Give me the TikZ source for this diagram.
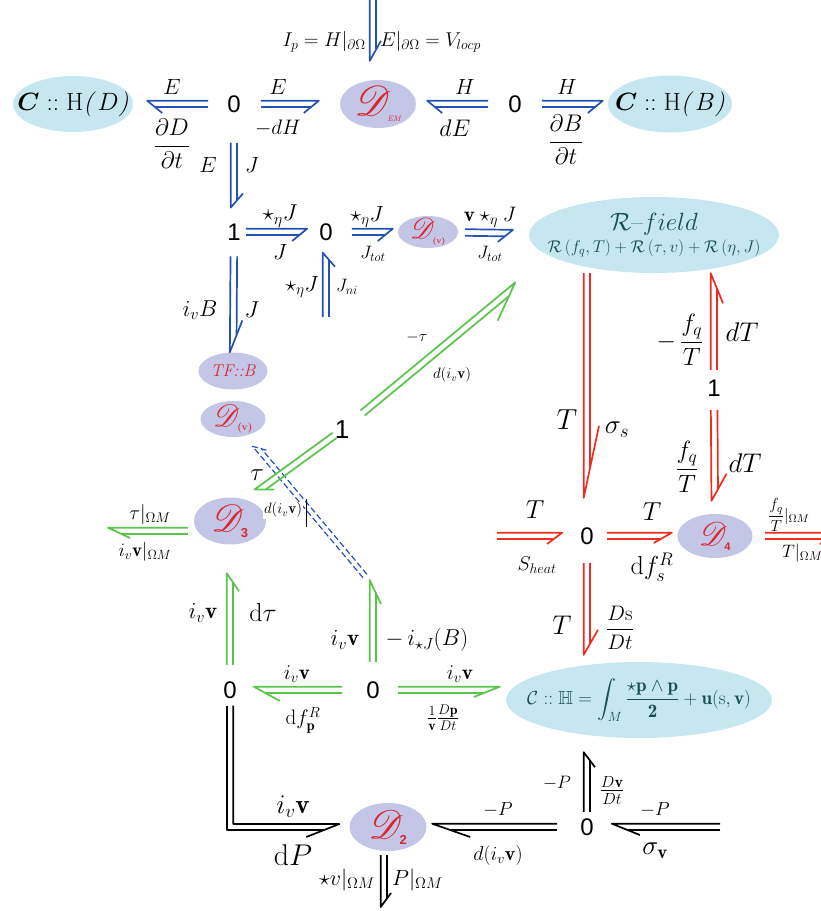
\documentclass[tikz,border=0pt]{standalone}
\usepackage{fix-cm}
\usepackage{amsmath,amssymb}
\usepackage{mathrsfs}
\DeclareFontFamily{U}{rsfs}{\skewchar\font127 }
\DeclareFontShape{U}{rsfs}{m}{n}{<-6> rsfs5 <6-8> rsfs7 <8-> rsfs10}{}
\usepackage{fontspec}
\newfontfamily\jfont{Liberation Sans}
\usetikzlibrary{shapes.geometric,calc}
\definecolor{bblue}{RGB}{35,82,178}
\definecolor{bgreen}{RGB}{88,196,74}
\definecolor{bred}{RGB}{240,44,30}
\definecolor{ecyan}{RGB}{198,231,239}
\definecolor{elav}{RGB}{196,198,232}
\definecolor{ttext}{RGB}{22,78,84}
\definecolor{dred}{RGB}{218,38,44}
\newcommand\hbsep{3.3pt}
% #1 style, #2 side, #3 from, #4 to, #5 gap start, #6 gap end, #7 barb length, #8 barb width
\newcommand\hb[8]{%
  \pgfmathsetlengthmacro\hbD{#2*\hbsep}%
  \pgfmathsetlengthmacro\hbW{#2*#8}%
  \pgfmathsetlengthmacro\hbC{#7*2*\hbsep/(\hbsep+#8)}%
  \path (#3) -- (#4) coordinate[pos=0] (hbA0) coordinate[pos=1] (hbB0);%
  \coordinate (hbA) at ($(hbA0)!#5!(hbB0)$);%
  \coordinate (hbB) at ($(hbB0)!#6!(hbA0)$);%
  \coordinate (hbP) at ($(hbB)!#7!(hbA)$);%
  \coordinate (hbQ) at ($(hbB)!\hbC!(hbA)$);%
  \draw[bondline,#1] ($(hbA)!\hbD!90:(hbB)$) -- ($(hbB)!\hbD!-90:(hbA)$) -- ($(hbP)!\hbW!90:(hbA)$);%
  \draw[bondline,#1] ($(hbA)!\hbD!-90:(hbB)$) -- ($(hbQ)!\hbD!90:(hbA)$);%
}
\newcommand\subsf[2]{\text{\jfont\fontsize{#1}{#1}\selectfont\bfseries #2}}
\tikzset{
  bondline/.style={line width=1.7pt, line join=round},
  jn/.style={inner sep=0pt, font=\jfont\fontsize{24}{24}\selectfont},
  lab/.style={inner sep=0pt, font=\fontsize{#1}{#1}\selectfont},
  cyanell/.style={ellipse, fill=ecyan, inner xsep=-40pt, inner ysep=-8pt},
  lavell/.style={ellipse, fill=elav, inner xsep=-40pt, inner ysep=-20pt},
}
\begin{document}
\begin{tikzpicture}[x=1pt,y=-1pt]
\useasboundingbox (0,0) rectangle (821,911);
\clip (0,0) rectangle (821,911);

% ---------- nodes ----------
\node[cyanell, minimum width=120, minimum height=56] (CHD) at (73,104)
  {\fontsize{25}{25}\selectfont$\boldsymbol{C}\mathrel{\mathbf{::}}\mathrm{H}$\textit{(\,$D$)}};
\node[lavell, minimum width=76, minimum height=48] (DEM) at (378,104)
  {\color{dred}\fontsize{42}{42}\selectfont$\mathscr{D}_{\text{\fontsize{8}{8}\selectfont\itshape EM}}$};
\node[cyanell, minimum width=124, minimum height=57] (CHB) at (670,104)
  {\fontsize{25}{25}\selectfont$\boldsymbol{C}\mathrel{\mathbf{::}}\mathrm{H}$\textit{(\,$B$)}};
\node[jn] (z1) at (234,104) {0};
\node[jn] (z2) at (515,104) {0};
\node[jn] (j1) at (234,232) {1};
\node[jn] (z3) at (326,232) {0};
\node[lavell, minimum width=60, minimum height=32] (Dv) at (428,232)
  {\color{dred}\fontsize{29}{29}\selectfont$\mathscr{D}_{\text{\fontsize{8}{8}\selectfont\bfseries(v)}}$};
\node[cyanell, minimum width=250, minimum height=76, align=center, text=ttext] (Rf) at (654,235)
  {\fontsize{25}{25}\selectfont$\mathcal{R}\text{--}field$\\[3pt]
   \fontsize{17}{17}\selectfont$\mathcal{R}\left(f_q,T\right)+\mathcal{R}\left(\tau,v\right)+\mathcal{R}\left(\eta,J\right)$};
\node[lavell, minimum width=69, minimum height=37] (TFB) at (233,371)
  {\color{dred}\fontsize{17}{17}\selectfont\itshape TF::B};
\node[lavell, minimum width=65, minimum height=36] (Dv2) at (233,419)
  {\color{dred}\fontsize{31}{31}\selectfont$\mathscr{D}_{\text{\fontsize{10}{10}\selectfont\bfseries(v)}}$};
\node[jn, font=\jfont\fontsize{26}{26}\selectfont] (g1) at (342,430) {1};
\node[lavell, minimum width=72, minimum height=47] (D3) at (230,521)
  {\color{dred}\fontsize{38}{38}\selectfont$\mathscr{D}_{\subsf{13}{3}}$};
\node[jn] (r1) at (714,388) {1};
\node[jn] (r0) at (587,536) {0};
\node[lavell, minimum width=75, minimum height=44] (D4) at (715,536)
  {\color{dred}\fontsize{33}{33}\selectfont$\mathscr{D}_{\subsf{11}{4}}$};
\node[jn] (z4) at (230,690) {0};
\node[jn] (z5) at (373,690) {0};
\node[cyanell, minimum width=266, minimum height=76, text=ttext] (CH) at (639,700)
  {\fontsize{19}{19}\selectfont$\mathcal{C}\mathrel{::}\mathbb{H}=\displaystyle\int_M\frac{\star\mathbf{p}\wedge\mathbf{p}}{\mathbf{2}}+\mathbf{u}(\mathrm{s},\mathbf{v})$};
\node[jn] (z6) at (587,827) {0};
\node[lavell, minimum width=77, minimum height=48] (D2) at (388,827)
  {\color{dred}\fontsize{40}{40}\selectfont$\mathscr{D}_{\subsf{13}{2}}$};

% free ends
\coordinate (tEM) at (373,-6);
\coordinate (cJni) at (326,317);
\coordinate (cL) at (108,531);
\coordinate (cUp) at (373,580);
\coordinate (cDs) at (365,576);
\coordinate (cS) at (497,536);
\coordinate (cR) at (835,536);
\coordinate (cP) at (720,827);
\coordinate (cD) at (384,907);

% ---------- blue bonds ----------
\hb{bblue}{-1}{tEM}{tEM |- DEM.north}{0pt}{19pt}{20pt}{8pt}
\hb{bblue}{-1}{z1}{CHD}{19pt}{14pt}{15pt}{9pt}
\hb{bblue}{1}{z1}{DEM}{20pt}{21pt}{15pt}{9pt}
\hb{bblue}{-1}{z2}{DEM}{20pt}{11pt}{15pt}{9pt}
\hb{bblue}{1}{z2}{CHB}{20pt}{5pt}{15pt}{9pt}
\hb{bblue}{-1}{z1}{j1}{30pt}{16pt}{14pt}{9pt}
\hb{bblue}{1}{j1}{z3}{5pt}{12pt}{15pt}{9pt}
\hb{bblue}{1}{z3}{Dv}{19pt}{5pt}{15pt}{9pt}
\hb{bblue}{1}{Dv}{Rf}{7pt}{16pt}{15pt}{9pt}
\hb{bblue}{1}{cJni}{z3}{0pt}{12pt}{14pt}{9pt}
\hb{bblue}{-1}{j1}{TFB}{16pt}{0pt}{32pt}{9pt}
{\renewcommand\hbsep{2.6pt}%
\hb{bblue,line width=1.2pt,dash pattern=on 6pt off 3pt}{1}{cDs}{Dv2}{0pt}{12pt}{14pt}{7pt}}

% ---------- green bonds ----------
\hb{bgreen}{1}{g1}{Rf.192}{17pt}{44pt}{38pt}{15pt}
\hb{bgreen}{-1}{g1}{D3.53}{0pt}{13pt}{16pt}{8.5pt}
\hb{bgreen}{-1}{cL -| D3.west}{cL}{6pt}{0pt}{22pt}{7pt}
\hb{bgreen}{1}{z4}{D3}{16.5pt}{28.5pt}{18pt}{9pt}
\hb{bgreen}{1}{z5}{cUp}{19.5pt}{0pt}{24pt}{8pt}
\hb{bgreen}{-1}{z5}{z4}{24pt}{17pt}{26pt}{11pt}
\hb{bgreen}{1}{z5}{CH.west |- z5}{18pt}{6pt}{26pt}{7pt}

% ---------- red bonds ----------
\hb{bred}{-1}{Rf.south -| r0}{r0}{0pt}{29.5pt}{72pt}{12pt}
\hb{bred}{1}{r1}{Rf.south -| r1}{9.5pt}{0pt}{30pt}{9pt}
\hb{bred}{-1}{r1}{D4}{13.5pt}{13pt}{27pt}{12pt}
\hb{bred}{1}{cS}{r0}{0pt}{18pt}{15pt}{8pt}
\hb{bred}{1}{r0}{D4}{13pt}{5.5pt}{18pt}{7pt}
\hb{bred}{1}{D4}{cR}{12.5pt}{0pt}{15pt}{8pt}
\hb{bred}{-1}{r0}{r0 |- CH.north}{18.5pt}{7pt}{25pt}{11pt}

% ---------- black bonds ----------
\draw[bondline] ($(z4.south)+(3.3,7)$) |- ($(D2.west)+(-10,-3)$) -- ++(-33,13);
\draw[bondline] ($(z4.south)+(-3.3,7)$) |- ($(D2.west)+(-25,3.3)$);
\hb{black}{-1}{z6}{D2}{23pt}{5.5pt}{38pt}{10pt}
\hb{black}{-1}{cP}{z6}{0pt}{18pt}{28pt}{8pt}
\hb{black}{1}{z6}{z6 |- CH.south}{6.5pt}{14pt}{15pt}{8pt}
\hb{black}{-1}{cD |- D2.south}{cD}{4pt}{0pt}{14pt}{7pt}

% ---------- labels ----------
\node[lab=20, anchor=east] (t1) at (366,42) {$I_p = H|_{\partial\Omega}$};
\node[lab=20, anchor=west] (t2) at (380,42) {$E|_{\partial\Omega} = V_{locp}$};
\node[lab=22] (a1) at (172,87) {$E$};
\node[lab=24] (a2) at (172,144) {$\dfrac{\partial D}{\partial t}$};
\node[lab=22] (a3) at (278,87) {$E$};
\node[lab=21] (a4) at (278,128) {$-dH$};
\node[lab=22] (a5) at (208,165) {$E$};
\node[lab=22] (a6) at (252,165) {$J$};
\node[lab=22] (a7) at (465,87) {$H$};
\node[lab=24] (a8) at (455,128) {$dE$};
\node[lab=22] (a9) at (567,87) {$H$};
\node[lab=24] (a10) at (566,140) {$\dfrac{\partial B}{\partial t}$};

\node[lab=23] (b1) at (280,216) {$\star_\eta J$};
\node[lab=22] (b2) at (280,252) {$J$};
\node[lab=22] (b3) at (367,217) {$\star_\eta J$};
\node[lab=18] (b4) at (373,254) {$J_{tot}$};
\node[lab=21] (b5) at (490,217) {$\mathbf{v}\star_\eta J$};
\node[lab=18] (b6) at (490,254) {$J_{tot}$};
\node[lab=22] (b7) at (302,287) {$\star_\eta J$};
\node[lab=18] (b8) at (347,287) {$J_{ni}$};
\node[lab=23] (b9) at (200,310) {$i_vB$};
\node[lab=23] (b10) at (252,310) {$J$};

\node[lab=16] (c1) at (417,337) {$-\tau$};
\node[lab=15] (c2) at (452,375) {$d(i_v\mathbf{v})$};
\node[lab=25] (c3) at (257,475) {$\tau$};
\node[lab=15, fill=white, inner sep=1pt] (c4) at (283,510) {$d(i_v\mathbf{v})$};
\draw[line width=0.8pt] (c4.north east) ++(3,-2) -- ++(0,28);
\node[lab=20] (c5) at (150,514) {$\tau|_{\Omega M}$};
\node[lab=19] (c6) at (145,552) {$i_v\mathbf{v}|_{\Omega M}$};
\node[lab=23] (c7) at (203,613) {$i_v\mathbf{v}$};
\node[lab=26] (c8) at (263,613) {$\mathrm{d}\tau$};
\node[lab=23] (c9) at (345,640) {$i_v\mathbf{v}$};
\node[lab=23] (c10) at (427,640) {$-\,i_{\star J}(B)$};
\node[lab=21] (c11) at (297,674) {$i_v\mathbf{v}$};
\node[lab=21] (c12) at (303,720) {$\mathrm{d}f^R_{\mathbf{p}}$};
\node[lab=21] (c13) at (460,674) {$i_v\mathbf{v}$};
\node[lab=20] (c14) at (443,718) {$\frac{1}{\mathbf{v}}\frac{D\mathbf{p}}{Dt}$};

\node[lab=29] (d1) at (567,420) {$T$};
\node[lab=27] (d2) at (617,430) {$\sigma_s$};
\node[lab=25] (d3) at (680,340) {$-\,\dfrac{f_q}{T}$};
\node[lab=27] (d4) at (742,332) {$dT$};
\node[lab=25] (d5) at (687,467) {$\dfrac{f_q}{T}$};
\node[lab=27] (d6) at (745,463) {$dT$};
\node[lab=26] (d7) at (535,510) {$T$};
\node[lab=20] (d8) at (537,565) {$S_{heat}$};
\node[lab=26] (d9) at (652,512) {$T$};
\node[lab=26] (d10) at (652,567) {$\mathrm{d}f^R_s$};
\node[lab=16, anchor=west] (d11) at (768,515) {$\dfrac{f_q}{T}|_{\Omega M}$};
\node[lab=18, anchor=west] (d12) at (782,553) {$T|_{\Omega M}$};
\node[lab=27] (d13) at (562,625) {$T$};
\node[lab=21] (d14) at (620,628) {$\dfrac{D\mathrm{s}}{Dt}$};

\node[lab=27] (e1) at (293,807) {$i_v\mathbf{v}$};
\node[lab=30] (e2) at (293,855) {$\mathrm{d}P$};
\node[lab=19] (e3) at (498,810) {$-P$};
\node[lab=20] (e4) at (498,855) {$d(i_v\mathbf{v})$};
\node[lab=18] (e5) at (557,783) {$-P$};
\node[lab=23] (e6) at (612,790) {$\frac{D\mathbf{v}}{Dt}$};
\node[lab=19] (e7) at (655,810) {$-P$};
\node[lab=27] (e8) at (655,851) {$\sigma_{\mathbf{v}}$};
\node[lab=22, anchor=east] (e9) at (375,880) {$\star v|_{\Omega M}$};
\node[lab=22, anchor=west] (e10) at (392,880) {$P|_{\Omega M}$};
\end{tikzpicture}
\end{document}
